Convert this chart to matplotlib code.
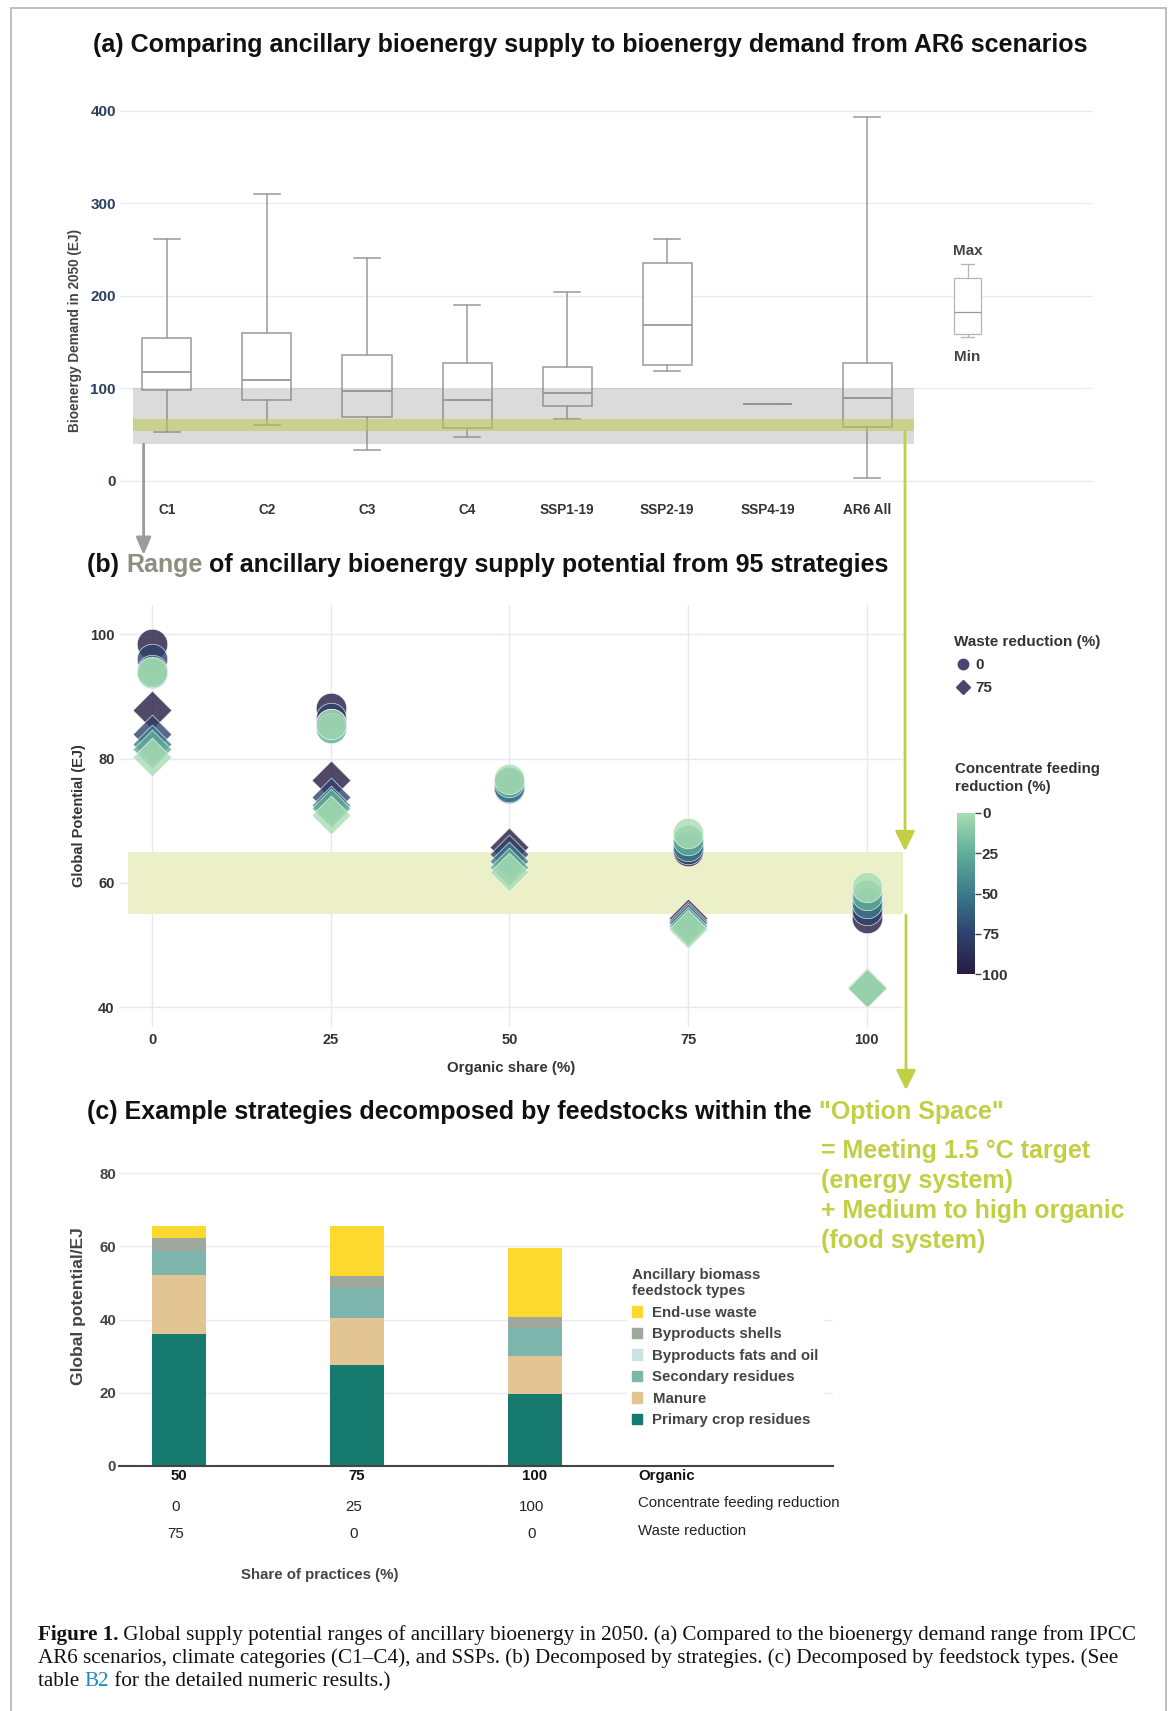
import numpy as np
import matplotlib
matplotlib.use("Agg")
import matplotlib.pyplot as plt
from matplotlib.patches import Rectangle, Patch, FancyArrowPatch
from matplotlib.lines import Line2D
from matplotlib.colors import LinearSegmentedColormap, Normalize
from matplotlib.cm import ScalarMappable

plt.rcParams['font.family'] = ['Liberation Sans', 'DejaVu Sans']

# ---------------- data ----------------
# (a) AR6 bioenergy demand 2050 (EJ): whisker low, Q1, median, Q3, whisker high
cats_a = ['C1', 'C2', 'C3', 'C4', 'SSP1-19', 'SSP2-19', 'SSP4-19', 'AR6 All']
whis_lo = [53, 61, 33, 48, 67, 119, 83, 3]
q1 = [98, 88, 69, 57, 81, 125, 83, 58]
med = [118, 109, 97, 88, 95, 169, 83, 90]
q3 = [154, 160, 136, 127, 123, 235, 83, 127]
whis_hi = [261, 310, 241, 190, 204, 261, 83, 393]
demand_band = [40, 100]
supply_band_a = [54, 67]
# legend box (illustrative)
legend_box = [156, 159, 183, 219, 234]

# (b) potentials (EJ) by organic share, rows = concentrate feeding reduction
organic = [0, 25, 50, 75, 100]
cfr_levels = [100, 75, 50, 25, 0]
pot_waste0 = [
    [98.4, 88.1, 76.0, 65.2, 54.4],
    [96.1, 86.6, 75.2, 65.5, 55.6],
    [94.3, 85.5, 75.4, 66.0, 56.8],
    [93.7, 84.9, 76.2, 66.9, 58.0],
    [94.0, 85.6, 76.8, 68.1, 59.4],
]
pot_waste75 = [
    [87.8, 76.5, 65.8, 54.4, 43.3],
    [84.0, 73.8, 64.7, 53.9, 43.1],
    [82.3, 72.5, 63.6, 53.6, 43.1],
    [81.5, 72.0, 62.5, 53.0, 43.1],
    [80.3, 70.9, 61.7, 52.6, 43.1],
]
supply_band_b = [55, 65]

# (c) feedstock decomposition (EJ)
organic_c = ['50', '75', '100']
cfr_c = ['0', '25', '100']
waste_c = ['75', '0', '0']
feed_names = ['Primary crop residues', 'Manure', 'Secondary residues',
              'Byproducts fats and oil', 'Byproducts shells', 'End-use waste']
feed_colors = ['#167a6e', '#e3c493', '#7db5ac', '#cde3e2', '#9ea89c', '#fdd82f']
primary = [36.1, 27.6, 19.6]
manure = [16.1, 12.9, 10.4]
secondary = [6.5, 8.2, 7.7]
fats_oil = [0.0, 0.0, 0.0]
shells = [3.7, 3.3, 3.0]
end_use = [3.3, 13.7, 18.9]

# ---------------- figure ----------------
W, H = 1173, 1711
fig = plt.figure(figsize=(W / 100, H / 100), dpi=100)


def rect(l, t, r, b):
    return [l / W, 1 - b / H, (r - l) / W, (b - t) / H]


def fx(x):
    return x / W


def fy(y):
    return 1 - y / H


GREEN = '#c2cf45'


def seq_text(x, y, parts, **kw):
    renderer = fig.canvas.get_renderer()
    for s, color, weight in parts:
        t = fig.text(fx(x), fy(y), s, color=color, fontweight=weight,
                     ha='left', va='baseline', **kw)
        x += t.get_window_extent(renderer).width
    return x


# outer frame
fig.add_artist(Rectangle((fx(11), -0.01), fx(1155), fy(8) + 0.01,
                         transform=fig.transFigure, fill=False,
                         ec='#b4b4b4', lw=1.2))

# ---------------- panel (a) ----------------
ax_a = fig.add_axes(rect(120, 100, 1093, 492))
stats = []
for i in range(len(cats_a)):
    stats.append(dict(med=med[i], q1=q1[i], q3=q3[i],
                      whislo=whis_lo[i], whishi=whis_hi[i], fliers=[]))
lc = '#9a9a9a'
ax_a.bxp(stats, positions=range(len(cats_a)), widths=0.49, capwidths=0.26,
         showfliers=False, patch_artist=True,
         boxprops=dict(facecolor='white', edgecolor=lc, lw=1.1),
         medianprops=dict(color=lc, lw=1.3),
         whiskerprops=dict(color=lc, lw=1.1),
         capprops=dict(color=lc, lw=1.1), zorder=2)
ax_a.bxp([dict(whislo=legend_box[0], q1=legend_box[1], med=legend_box[2],
               q3=legend_box[3], whishi=legend_box[4], fliers=[])],
         positions=[8], widths=0.27, capwidths=0.13, showfliers=False,
         patch_artist=True,
         boxprops=dict(facecolor='white', edgecolor='#b5b5b5', lw=0.9),
         medianprops=dict(color='#9a9a9a', lw=0.9),
         whiskerprops=dict(color='#b5b5b5', lw=0.9),
         capprops=dict(color='#b5b5b5', lw=0.9), zorder=2)
ax_a.text(8, 249, 'Max', ha='center', va='center', fontsize=11,
          fontweight='bold', color='#444444')
ax_a.text(8, 134, 'Min', ha='center', va='center', fontsize=11,
          fontweight='bold', color='#444444')
ax_a.fill_between([-0.34, 7.46], demand_band[0], demand_band[1],
                  color='#808080', alpha=0.28, lw=0, zorder=3)
ax_a.fill_between([-0.34, 7.46], supply_band_a[0], supply_band_a[1],
                  color='#bcc850', alpha=0.55, lw=0, zorder=3)
ax_a.set_xlim(-0.4675, 9.253)
ax_a.set_ylim(-11.9, 411.6)
ax_a.set_yticks([0, 100, 200, 300, 400])
ax_a.set_xticks(range(len(cats_a)))
ax_a.set_xticklabels(cats_a)
ax_a.grid(axis='y', color='#e5ecf6', lw=1)
ax_a.set_axisbelow(True)
for s in ax_a.spines.values():
    s.set_visible(False)
ax_a.tick_params(axis='y', length=0, pad=3, labelsize=11, labelcolor='#2a3f5f')
ax_a.tick_params(axis='x', length=0, pad=8, labelsize=9.8, labelcolor='#333333')
for lab in ax_a.get_xticklabels() + ax_a.get_yticklabels():
    lab.set_fontweight('bold')
fig.text(fx(75), fy(330), 'Bioenergy Demand in 2050 (EJ)', rotation=90,
         ha='center', va='center', fontsize=9.8, fontweight='bold',
         color='#444444')

fig.text(0.503, fy(45), '(a) Comparing ancillary bioenergy supply to bioenergy '
         'demand from AR6 scenarios', ha='center', va='center',
         fontsize=18, fontweight='bold', color='#111111')

# connectors
fig.add_artist(FancyArrowPatch((fx(143.6), fy(444)), (fx(143.6), fy(555)),
                               transform=fig.transFigure,
                               arrowstyle='-|>,head_width=0.3,head_length=0.7',
                               mutation_scale=15, color='#9b9b9b', lw=2,
                               shrinkA=0, shrinkB=0))
fig.add_artist(FancyArrowPatch((fx(905), fy(431)), (fx(905), fy(851)),
                               transform=fig.transFigure,
                               arrowstyle='-|>,head_width=0.4,head_length=0.8',
                               mutation_scale=15, color=GREEN, lw=2,
                               shrinkA=0, shrinkB=0))
fig.add_artist(FancyArrowPatch((fx(906), fy(915)), (fx(906), fy(1090)),
                               transform=fig.transFigure,
                               arrowstyle='-|>,head_width=0.4,head_length=0.8',
                               mutation_scale=15, color=GREEN, lw=2,
                               shrinkA=0, shrinkB=0))

# ---------------- panel (b) ----------------
seq_text(87, 572, [('(b) ', '#111111', 'bold'), ('Range', '#8c8f7d', 'bold'),
                   (' of ancillary bioenergy supply potential from 95 strategies',
                    '#111111', 'bold')], fontsize=18)

cmap = LinearSegmentedColormap.from_list(
    'cfr', [(0.0, '#a9dcb3'), (0.25, '#5fae98'), (0.5, '#3b7a8c'),
            (0.75, '#2e426e'), (1.0, '#261c42')])
norm = Normalize(0, 100)

ax_b = fig.add_axes(rect(120, 605, 902.6, 1027))
ax_b.fill_between([-3.4, 105], supply_band_b[0], supply_band_b[1],
                  color='#ebf0c8', lw=0, zorder=1)
for j, c in enumerate(cfr_levels):
    col = cmap(norm(c))
    ax_b.scatter(organic, pot_waste0[j], s=480, marker='o', color=col,
                 alpha=0.8, edgecolors='white', linewidths=0.5, zorder=3)
for j, c in enumerate(cfr_levels):
    col = cmap(norm(c))
    ax_b.scatter(organic, pot_waste75[j], s=390, marker='D', color=col,
                 alpha=0.8, edgecolors='white', linewidths=0.5, zorder=3)
ax_b.set_xlim(-4.48, 105)
ax_b.set_ylim(36.83, 104.71)
ax_b.set_xticks(organic)
ax_b.set_yticks([40, 60, 80, 100])
ax_b.grid(color='#e6e9f4', lw=1)
ax_b.set_axisbelow(True)
for s in ax_b.spines.values():
    s.set_visible(False)
ax_b.tick_params(length=0, pad=4, labelsize=10.5, labelcolor='#333333')
for lab in ax_b.get_xticklabels() + ax_b.get_yticklabels():
    lab.set_fontweight('bold')
fig.text(fx(79), fy(816), 'Global Potential (EJ)', rotation=90, ha='center',
         va='center', fontsize=10.5, fontweight='bold', color='#333333')
fig.text(fx(511), fy(1068), 'Organic share (%)', ha='center', va='center',
         fontsize=10.8, fontweight='bold', color='#333333')

# legends for (b)
handles = [Line2D([], [], marker='o', ls='', color='#4a4470', markersize=7.5),
           Line2D([], [], marker='D', ls='', color='#4a4470', markersize=7)]
leg = ax_b.legend(handles, ['0', '75'], title='Waste reduction (%)',
                  loc='upper left', bbox_to_anchor=(fx(948), fy(629)),
                  bbox_transform=fig.transFigure, frameon=False,
                  prop=dict(size=11, weight='bold'), handletextpad=0.2,
                  labelspacing=0.6, handlelength=1.2, alignment='left',
                  borderaxespad=0)
leg.get_title().set_fontweight('bold')
leg.get_title().set_fontsize(11)
leg.get_title().set_color('#333333')
for t in leg.get_texts():
    t.set_color('#333333')

fig.text(fx(955), fy(778), 'Concentrate feeding\nreduction (%)', ha='left',
         va='center', fontsize=10.8, fontweight='bold', color='#333333',
         linespacing=1.45)
cax = fig.add_axes(rect(957, 813, 975, 974))
cb = fig.colorbar(ScalarMappable(norm=norm, cmap=cmap), cax=cax)
cax.invert_yaxis()
cb.set_ticks([0, 25, 50, 75, 100])
cb.outline.set_visible(False)
cax.tick_params(length=4, width=1, color='#444444', labelsize=11, pad=1,
                labelcolor='#333333')
for lab in cax.get_yticklabels():
    lab.set_fontweight('bold')

# ---------------- panel (c) ----------------
xe = seq_text(87, 1119, [('(c) Example strategies decomposed by feedstocks within the ',
                          '#111111', 'bold')], fontsize=18)
fig.text(fx(xe), fy(1119), '"Option Space"', color=GREEN, fontsize=18,
         fontweight='bold', ha='left', va='baseline')

ax_c = fig.add_axes(rect(119, 1173.3, 833, 1465.7))
xs = np.arange(len(organic_c))
bottom = np.zeros(len(xs))
series = [primary, manure, secondary, fats_oil, shells, end_use]
for vals, colr in zip(series, feed_colors):
    ax_c.bar(xs, vals, width=0.303, bottom=bottom, color=colr, lw=0, zorder=2)
    bottom += np.array(vals)
ax_c.set_xlim(-0.337, 3.674)
ax_c.set_ylim(0, 80)
ax_c.set_yticks([0, 20, 40, 60, 80])
ax_c.set_xticks([])
ax_c.grid(axis='y', color='#ebebeb', lw=1)
ax_c.set_axisbelow(True)
for s in ['top', 'right', 'left']:
    ax_c.spines[s].set_visible(False)
ax_c.spines['bottom'].set_color('#444444')
ax_c.spines['bottom'].set_linewidth(1.5)
ax_c.tick_params(axis='y', length=0, pad=2, labelsize=10.8, labelcolor='#444444')
for lab in ax_c.get_yticklabels():
    lab.set_fontweight('bold')

trans = ax_c.get_xaxis_transform()
for i in range(len(xs)):
    ax_c.text(xs[i], -0.035, organic_c[i], transform=trans, ha='center',
              va='center', fontsize=10.8, fontweight='bold', color='#111111')
    ax_c.text(xs[i] - 0.02, -0.14, cfr_c[i], transform=trans, ha='center',
              va='center', fontsize=10.8, color='#222222')
    ax_c.text(xs[i] - 0.02, -0.235, waste_c[i], transform=trans, ha='center',
              va='center', fontsize=10.8, color='#222222')
ax_c.text(2.58, -0.035, 'Organic', transform=trans, ha='left', va='center',
          fontsize=10.8, fontweight='bold', color='#111111')
ax_c.text(2.58, -0.128, 'Concentrate feeding reduction', transform=trans,
          ha='left', va='center', fontsize=10.8, color='#222222')
ax_c.text(2.58, -0.225, 'Waste reduction', transform=trans, ha='left',
          va='center', fontsize=10.8, color='#222222')

fig.text(fx(79), fy(1306), 'Global potential/EJ', rotation=90, ha='center',
         va='center', fontsize=12.5, fontweight='bold', color='#444444')
fig.text(fx(320), fy(1575), 'Share of practices (%)', ha='center', va='center',
         fontsize=10.8, fontweight='bold', color='#444444')

leg_c = ax_c.legend([Patch(color=c) for c in feed_colors[::-1]], feed_names[::-1],
                    title='Ancillary biomass\nfeedstock types', loc='upper left',
                    bbox_to_anchor=(fx(627), fy(1263)),
                    bbox_transform=fig.transFigure, frameon=True,
                    facecolor='white', edgecolor='white', framealpha=1,
                    prop=dict(size=10.8, weight='bold'), alignment='left',
                    handlelength=0.7, handleheight=0.7, handletextpad=0.7,
                    labelspacing=0.5, borderaxespad=0, borderpad=0.3)
leg_c.get_title().set_fontweight('bold')
leg_c.get_title().set_fontsize(10.8)
leg_c.get_title().set_color('#444444')
leg_c.get_title().set_linespacing(1.25)
for t in leg_c.get_texts():
    t.set_color('#444444')

fig.text(fx(821), fy(1139), '= Meeting 1.5 °C target\n(energy system)\n'
         '+ Medium to high organic\n(food system)', ha='left', va='top',
         color=GREEN, fontsize=18, fontweight='bold', linespacing=1.32,
         bbox=dict(facecolor='white', edgecolor='none', pad=1))

# ---------------- caption ----------------
cap_font = dict(fontsize=15.2, family=['Liberation Serif', 'DejaVu Serif'])
seq_text(38, 1640, [('Figure 1.', '#111111', 'bold'),
                    (' Global supply potential ranges of ancillary bioenergy in 2050. '
                     '(a) Compared to the bioenergy demand range from IPCC',
                     '#111111', 'normal')], **cap_font)
seq_text(38, 1663, [('AR6 scenarios, climate categories (C1–C4), and SSPs. (b) Decomposed '
                     'by strategies. (c) Decomposed by feedstock types. (See',
                     '#111111', 'normal')], **cap_font)
seq_text(38, 1686, [('table ', '#111111', 'normal'), ('B2', '#1a8bc6', 'normal'),
                    (' for the detailed numeric results.)', '#111111', 'normal')],
         **cap_font)

fig.savefig('out.png', dpi=100)
